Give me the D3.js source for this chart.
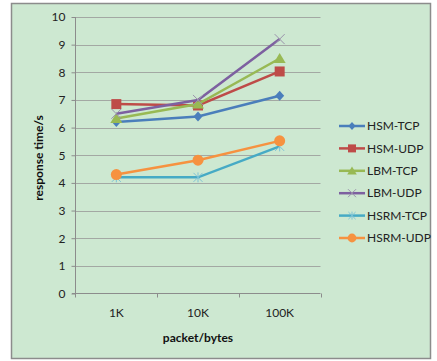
<!DOCTYPE html>
<html><head><meta charset="utf-8">
<script src="https://cdn.jsdelivr.net/npm/d3@7"></script>
<style>body{margin:0;background:#fff}svg{display:block}</style>
</head><body>
<svg id="c" width="437" height="361"></svg>
<script>
const categories = ["1K","10K","100K"];
const seriesNames = ["HSM-TCP","HSM-UDP","LBM-TCP","LBM-UDP","HSRM-TCP","HSRM-UDP"];
const hsmTcp  = [6.2, 6.4, 7.15];
const hsmUdp  = [6.85, 6.8, 8.03];
const lbmTcp  = [6.33, 6.85, 8.5];
const lbmUdp  = [6.5, 7.0, 9.2];
const hsrmTcp = [4.2, 4.2, 5.32];
const hsrmUdp = [4.3, 4.82, 5.52];
const yTicks = [0,1,2,3,4,5,6,7,8,9,10];
const colors = ["#4A7EBB","#BE4B48","#98B954","#7D60A0","#46AAC5","#F69240"];
const markers = ["diamond","square","triangle","x","star","circle"];
const values = [hsmTcp,hsmUdp,lbmTcp,lbmUdp,hsrmTcp,hsrmUdp];

const svg = d3.select("#c");
const font = "Lato, 'Open Sans', sans-serif";
svg.append("rect").attr("x",11.5).attr("y",3.5).attr("width",419).attr("height",355)
  .attr("fill","#cde8d1").attr("stroke","#8c8c8c").attr("stroke-width",1.5);

const x = d3.scaleBand().domain(categories).range([75.5,320.5]);
const y = d3.scaleLinear().domain([0,10]).range([293.5,17]);

// gridlines
svg.append("g").selectAll("line").data(yTicks.slice(1)).join("line")
  .attr("x1",75.5).attr("x2",320.5).attr("y1",d=>Math.round(y(d))+0.5).attr("y2",d=>Math.round(y(d))+0.5)
  .attr("stroke","#a3a8a3").attr("stroke-width",1);

// y axis
const ya = svg.append("g").attr("transform","translate(75.5,0)")
  .call(d3.axisLeft(y).tickValues(yTicks).tickSize(4).tickPadding(6).tickFormat(d3.format("d")));
ya.select(".domain").attr("stroke","#8c8c8c").attr("d","M-0,17V297.5");
ya.selectAll(".tick line").attr("stroke","#8c8c8c");
ya.selectAll("text").attr("font-family",font).attr("font-size",12).attr("fill","#222");

// x axis
const xa = svg.append("g").attr("transform","translate(0,293.5)")
  .call(d3.axisBottom(x).tickSize(0).tickPadding(15));
xa.select(".domain").attr("stroke","#8c8c8c").attr("d","M72,0H320.5");
xa.selectAll("text").attr("font-family",font).attr("font-size",12).attr("fill","#222");
const bounds = categories.map(c=>x(c)).concat([x.range()[1]]);
xa.append("g").selectAll("line").data(bounds.slice(1)).join("line")
  .attr("x1",d=>Math.round(d)+0.5).attr("x2",d=>Math.round(d)+0.5).attr("y1",0).attr("y2",4)
  .attr("stroke","#8c8c8c");

// titles
svg.append("text").attr("x",198).attr("y",342).attr("text-anchor","middle")
  .attr("font-family",font).attr("font-size",12).attr("font-weight","bold").attr("fill","#111").text("packet/bytes");
svg.append("text").attr("transform","translate(43,158) rotate(-90)").attr("text-anchor","middle")
  .attr("font-family",font).attr("font-size",12).attr("font-weight","bold").attr("fill","#111").text("response time/s");

function drawMarker(g, type, color, cx, cy, s){
  s = s || 1;
  if(type==="diamond"){
    g.append("path").attr("d",`M${cx},${cy-5*s}L${cx+4.5*s},${cy}L${cx},${cy+5*s}L${cx-4.5*s},${cy}Z`).attr("fill",color);
  } else if(type==="square"){
    g.append("rect").attr("x",cx-5*s).attr("y",cy-5*s).attr("width",10*s).attr("height",10*s).attr("fill",color);
  } else if(type==="triangle"){
    g.append("path").attr("d",`M${cx},${cy-5.5*s}L${cx+6*s},${cy+4.5*s}L${cx-6*s},${cy+4.5*s}Z`).attr("fill",color);
  } else if(type==="x"){
    g.append("path").attr("d",`M${cx-5*s},${cy-5*s}L${cx+5*s},${cy+5*s}M${cx+5*s},${cy-5*s}L${cx-5*s},${cy+5*s}`).attr("stroke","#9a92ab").attr("stroke-width",1);
  } else if(type==="star"){
    g.append("path").attr("d",`M${cx-4.5*s},${cy-4.5*s}L${cx+4.5*s},${cy+4.5*s}M${cx+4.5*s},${cy-4.5*s}L${cx-4.5*s},${cy+4.5*s}M${cx},${cy-5*s}V${cy+5*s}`).attr("stroke","#7fc3d6").attr("stroke-width",1);
  } else if(type==="circle"){
    g.append("circle").attr("cx",cx).attr("cy",cy).attr("r",5.5*s).attr("fill",color);
  }
}

const cx = c => x(c)+x.bandwidth()/2;
const line = d3.line().x((d,i)=>cx(categories[i])).y(d=>y(d));
values.forEach((vals,si)=>{
  const g = svg.append("g");
  g.append("path").datum(vals).attr("d",line).attr("fill","none").attr("stroke",colors[si]).attr("stroke-width",2.5);
  vals.forEach((v,i)=>drawMarker(g,markers[si],colors[si],cx(categories[i]),y(v)));
});

// legend
const lg = svg.append("g");
seriesNames.forEach((n,i)=>{
  const ly = 126 + i*22.4;
  lg.append("line").attr("x1",339).attr("x2",365).attr("y1",ly).attr("y2",ly).attr("stroke",colors[i]).attr("stroke-width",2.5);
  drawMarker(lg,markers[i],colors[i],352,ly,0.8);
  lg.append("text").attr("x",367).attr("y",ly).attr("dy","0.35em").attr("font-family",font).attr("font-size",12).attr("fill","#222").text(n);
});
</script>
</body></html>
